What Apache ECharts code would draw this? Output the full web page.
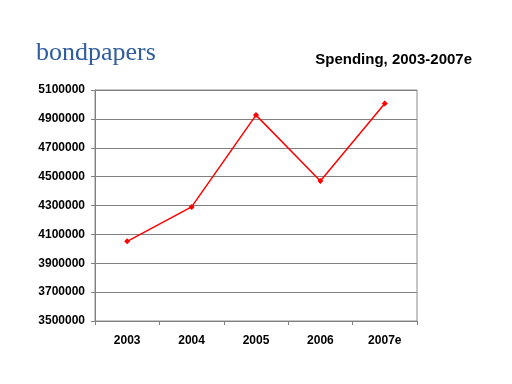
<!DOCTYPE html>
<html>
<head>
<meta charset="utf-8">
<script src="https://cdn.jsdelivr.net/npm/echarts@6/dist/echarts.min.js"></script>
<style>html,body{margin:0;padding:0;background:#fff}#c{width:512px;height:384px}</style>
</head>
<body>
<div id="c"></div>
<script>
const categories = ['2003', '2004', '2005', '2006', '2007e'];
const spending = [4052000, 4290000, 4926000, 4470000, 5007000];
const yMin = 3500000, yMax = 5100000, yStep = 200000;

const chart = echarts.init(document.getElementById('c'), null, {renderer: 'canvas'});
chart.setOption({
  animation: false,
  backgroundColor: '#ffffff',
  title: [
    {text: 'bondpapers', left: 31, top: 35,
     textStyle: {fontFamily: 'Liberation Serif', fontWeight: 'normal', fontSize: 26, color: '#2F5D9E'}},
    {text: 'Spending, 2003-2007e', right: 35, top: 47,
     textStyle: {fontFamily: 'Liberation Sans', fontWeight: 'bold', fontSize: 15, color: '#000'}}
  ],
  grid: {left: 95, right: 95, top: 90, bottom: 63, show: true, borderColor: '#8c8c8c', borderWidth: 1},
  xAxis: {
    type: 'category', data: categories, boundaryGap: true,
    axisLine: {lineStyle: {color: '#808080', width: 1}},
    axisTick: {show: true, length: 4, inside: false, lineStyle: {color: '#808080'}},
    axisLabel: {margin: 14, fontFamily: 'Liberation Sans', fontWeight: 'bold', fontSize: 12, color: '#000'}
  },
  yAxis: {
    type: 'value', min: yMin, max: yMax, interval: yStep,
    axisLine: {show: true, lineStyle: {color: '#808080', width: 1}},
    axisTick: {show: true, length: 4, lineStyle: {color: '#808080'}},
    splitLine: {show: true, lineStyle: {color: '#808080', width: 1}},
    axisLabel: {margin: 10, fontFamily: 'Liberation Sans', fontWeight: 'bold', fontSize: 12, color: '#000',
      formatter: v => String(v)}
  },
  series: [{
    type: 'line', data: spending,
    lineStyle: {color: '#ff0000', width: 1.5},
    itemStyle: {color: '#ff0000'},
    symbol: 'diamond', symbolSize: 6, showSymbol: true
  }]
});
</script>
</body>
</html>
